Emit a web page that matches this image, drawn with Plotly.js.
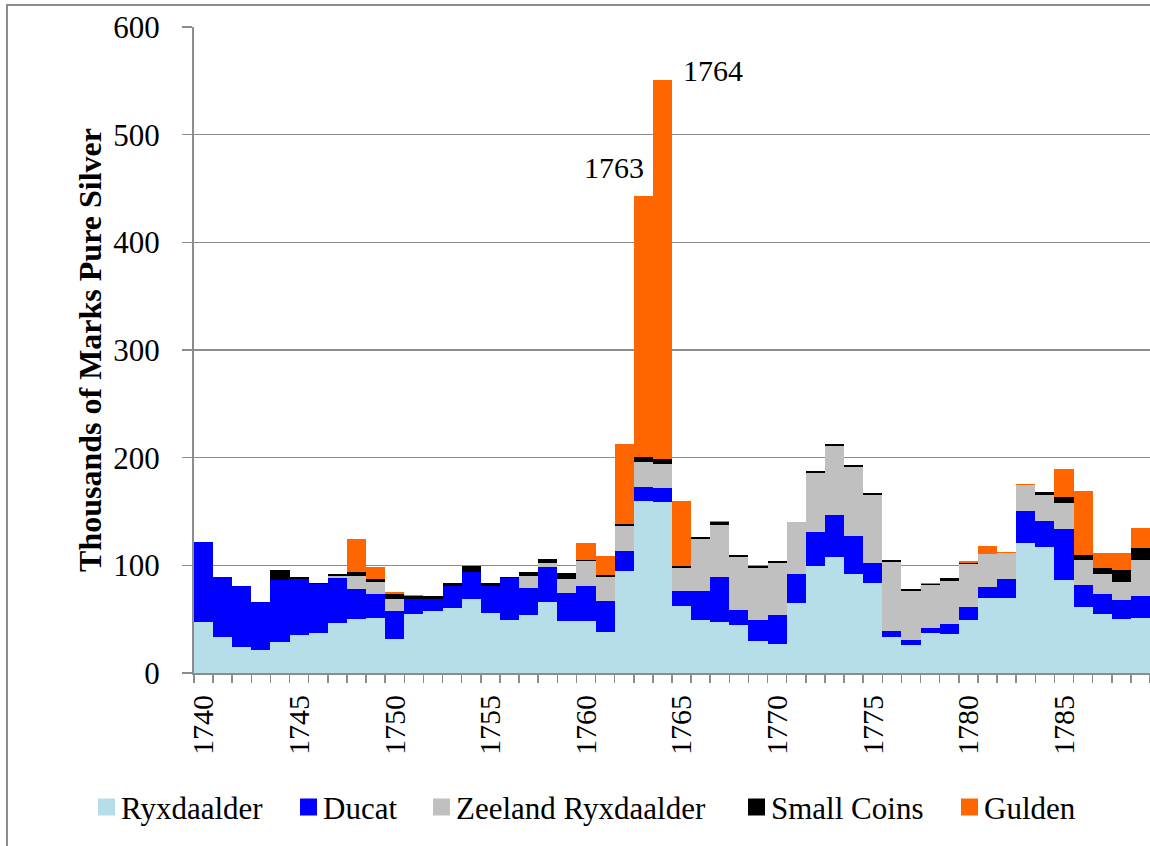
<!DOCTYPE html>
<html>
<head>
<meta charset="utf-8">
<script src="https://cdn.plot.ly/plotly-3.0.1.min.js"></script>
<style>
  html, body { margin: 0; padding: 0; background: #ffffff; }
  #chart { width: 1150px; height: 846px; }
</style>
</head>
<body>
<div id="chart"></div>
<script>
// Years (one bar per year)
const years = [
  1740,1741,1742,1743,1744,1745,1746,1747,1748,1749,
  1750,1751,1752,1753,1754,1755,1756,1757,1758,1759,
  1760,1761,1762,1763,1764,1765,1766,1767,1768,1769,
  1770,1771,1772,1773,1774,1775,1776,1777,1778,1779,
  1780,1781,1782,1783,1784,1785,1786,1787,1788,1789
];

// Thousands of marks pure silver, by coin type
const ryxdaalder = [
  47,33,24.5,21,28.5,35.5,37,46,50,51,
  31.6,54.6,58,60.5,68.3,55.5,49.3,54,65.8,48.4,
  48.4,38.4,95,160,159,62.6,49.3,47.1,44.7,29.5,
  27,65.4,99.5,107.3,91.8,83.4,33.2,26,36.9,36,
  49.3,69.6,69.6,120.6,116.9,86.5,61.7,54.6,50.2,51.4
];
const ducat = [
  75,56,56.5,44.5,57.5,51.5,45.5,42,28,22.5,
  26.4,14.5,11,20.7,25.5,25,38.8,24.8,33,25.7,
  32,28.6,18.5,13,12.8,14,27.3,42.5,13.9,19.8,
  27,26.7,31.9,39,35.9,18.6,5.9,4.7,5.3,9.6,
  11.8,10.7,17.5,29.7,24.5,47.5,19.9,18.9,17.7,20.2
];
const zeelandRyxdaalder = [
  0,0,0,0,0,0,0,2.5,12.5,11,
  10.8,0,0,0,0,0,0,11.4,3,13.3,
  23.2,22.6,23.2,23,22.6,21.1,48.1,48.1,48.7,48.1,
  48,47.7,54.4,64.2,63.6,62.9,64.4,45.6,39.7,40,
  40.3,30.4,24.2,24.3,24.2,23.9,23.5,18.3,17,32.9
];
const smallCoins = [
  0,0,0,0,9.3,2.2,1,1,3.2,2.4,
  5,2.8,2.3,2.8,5.7,3,1,4,4.2,5.3,
  1.6,1.6,1.9,4.3,4.6,1.8,1.8,2.1,2.5,2.4,
  1.9,0.9,1.8,1.9,1.9,1.9,1.9,1.8,0.6,2.5,
  1.2,0,0,0,2.1,5.5,4.9,5.3,10.9,11.2
];
const gulden = [
  0,0,0,0,0,0,0,0,30.3,12,
  1.8,0.6,0,0,0,0,0,0,0,0,
  15.2,17.3,74.4,242.7,352,60.5,0,1.3,0,0,
  0,0,0,0,0,0,0,0,1.2,0,
  1.3,7.4,1.3,1.2,0.7,26.1,59.3,14.8,15.5,18.9
];

const seriesNames = ["Ryxdaalder","Ducat","Zeeland Ryxdaalder","Small Coins","Gulden"];
const seriesColors = ["#B7DDE8","#0000FF","#C0C0C0","#000000","#FF6600"];
const seriesValues = [ryxdaalder, ducat, zeelandRyxdaalder, smallCoins, gulden];

const tickYears = [1740,1745,1750,1755,1760,1765,1770,1775,1780,1785];
const labelledYears = [1763, 1764];

const FONT = 'Liberation Serif, Times New Roman, serif';

// Figure geometry (pixels)
const W = 1150, H = 846;
const M = { l: 194, r: 0, t: 27, b: 173 };
const plotW = W - M.l - M.r, plotH = H - M.t - M.b;
const px2paperX = px => (px - M.l) / plotW;
const px2paperY = py => (H - M.b - py) / plotH;

const traces = seriesNames.map((name, i) => ({
  type: 'bar',
  name: name,
  x: years,
  y: seriesValues[i],
  width: 1,
  marker: { color: seriesColors[i], line: { width: 0 } },
  hoverinfo: 'x+y+name',
  showlegend: false
}));

function totalFor(year) {
  const idx = years.indexOf(year);
  return seriesValues.reduce((s, arr) => s + arr[idx], 0);
}

const annotations = [
  { x: labelledYears[0], y: totalFor(labelledYears[0]), xref: 'x', yref: 'y',
    text: String(labelledYears[0]), showarrow: false, xanchor: 'right', yanchor: 'middle',
    xshift: 3, yshift: 29, font: { family: FONT, size: 30, color: '#000' } },
  { x: labelledYears[1], y: totalFor(labelledYears[1]), xref: 'x', yref: 'y',
    text: String(labelledYears[1]), showarrow: false, xanchor: 'left', yanchor: 'middle',
    xshift: 19, yshift: 9, font: { family: FONT, size: 30, color: '#000' } }
];

// Legend drawn as swatches + text below the plot
const legendSwatchLeftPx = [98, 300, 433, 748, 961];
const legendCenterYPx = 807;
const swatchSize = 17;
const shapes = [
  { type: 'rect', xref: 'paper', yref: 'paper',
    x0: px2paperX(7), x1: px2paperX(1170), y0: px2paperY(870), y1: px2paperY(5),
    line: { color: '#8C8C8C', width: 2 }, fillcolor: 'rgba(0,0,0,0)', layer: 'below' }
];
seriesNames.forEach((name, i) => {
  const x0 = legendSwatchLeftPx[i];
  shapes.push({
    type: 'rect', xref: 'paper', yref: 'paper',
    x0: px2paperX(x0), x1: px2paperX(x0 + swatchSize),
    y0: px2paperY(legendCenterYPx + swatchSize / 2), y1: px2paperY(legendCenterYPx - swatchSize / 2),
    line: { width: 0 }, fillcolor: seriesColors[i], layer: 'above'
  });
  annotations.push({
    xref: 'paper', yref: 'paper',
    x: px2paperX(x0 + swatchSize + 4), y: px2paperY(legendCenterYPx + 1),
    xanchor: 'left', yanchor: 'middle', showarrow: false,
    text: name, font: { family: FONT, size: 31, color: '#000' }
  });
});

const layout = {
  width: W,
  height: H,
  margin: { l: M.l, r: M.r, t: M.t, b: M.b, autoexpand: false },
  paper_bgcolor: '#ffffff',
  plot_bgcolor: '#ffffff',
  barmode: 'stack',
  bargap: 0,
  font: { family: FONT, size: 30, color: '#000' },
  showlegend: false,
  xaxis: {
    range: [1739.5, 1789.5],
    tickmode: 'array',
    tickvals: tickYears,
    ticktext: tickYears.map(String),
    tickangle: -90,
    ticks: '',
    ticklabelstandoff: 8,
    tickfont: { family: FONT, size: 30, color: '#000' },
    showline: true,
    linecolor: '#8C8C8C',
    linewidth: 2,
    showgrid: false,
    zeroline: false,
    fixedrange: true,
    minor: {
      tickmode: 'linear',
      tick0: 1739.5,
      dtick: 1,
      ticks: 'outside',
      ticklen: 8,
      tickcolor: '#8C8C8C',
      tickwidth: 1.5,
      showgrid: false
    }
  },
  yaxis: {
    range: [0, 600],
    tickmode: 'linear',
    tick0: 0,
    dtick: 100,
    ticks: 'outside',
    ticklen: 10,
    tickcolor: '#8C8C8C',
    tickwidth: 1.5,
    ticklabelstandoff: 16,
    tickfont: { family: FONT, size: 31, color: '#000' },
    showline: true,
    linecolor: '#8C8C8C',
    linewidth: 2,
    showgrid: true,
    gridcolor: '#8C8C8C',
    gridwidth: 1.5,
    zeroline: false,
    fixedrange: true,
    title: {
      text: '<b>Thousands of Marks Pure Silver</b>',
      font: { family: FONT, size: 32, color: '#000' },
      standoff: 2
    }
  },
  annotations: annotations,
  shapes: shapes
};

Plotly.newPlot('chart', traces, layout, { displayModeBar: false, staticPlot: true });
</script>
</body>
</html>
